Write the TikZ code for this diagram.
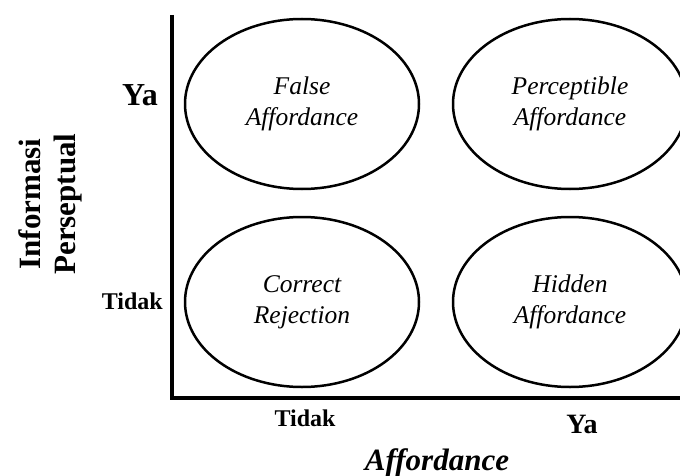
\documentclass[tikz,border=0pt]{standalone}
\usepackage{fontspec}
\setmainfont{Liberation Serif}
\usepackage{tikz}
\usetikzlibrary{shapes.geometric}

\begin{document}
\begin{tikzpicture}[
  x=1pt, y=-1pt,
  cell/.style={draw, ellipse, line width=2.5pt, minimum width=234pt, minimum height=170pt, inner sep=0pt, align=center, font=\fontsize{25.5}{31}\selectfont\itshape},
  axis/.style={line width=4pt, line join=miter},
  tick/.style={font=\fontsize{24}{28}\selectfont\bfseries},
  big/.style={font=\fontsize{28}{32}\selectfont\bfseries}
]
\useasboundingbox (0,0) rectangle (680,476);

% axes
\coordinate (top) at (172,15);
\coordinate (origin) at (172,398);
\coordinate (right) at (680,398);
\draw[axis] (top) -- (origin) -- (right);

% quadrants
\node[cell] (fa) at (302,104) {False\\Affordance};
\node[cell] (pa) at (570,104) {Perceptible\\Affordance};
\node[cell] (cr) at (302,302) {Correct\\Rejection};
\node[cell] (ha) at (570,302) {Hidden\\Affordance};

% vertical axis labels
\node[big, anchor=base east, inner sep=0pt, font=\fontsize{32}{36}\selectfont\bfseries] (yya) at (158,106) {Ya};
\node[tick, anchor=base east, inner sep=0pt] (ytidak) at (163,309) {Tidak};
\node[rotate=90, align=center, inner sep=0pt, font=\fontsize{31}{35}\selectfont\bfseries] (ytitle) at (50,204) {Informasi\\Perseptual};

% horizontal axis labels
\node[tick, anchor=base, inner sep=0pt] (xtidak) at (305,426) {Tidak};
\node[big, anchor=base, inner sep=0pt] (xya) at (582,433) {Ya};
\node[anchor=base, inner sep=0pt, font=\fontsize{31}{35}\selectfont\bfseries\itshape] (xtitle) at (437,470) {Affordance};
\end{tikzpicture}
\end{document}
